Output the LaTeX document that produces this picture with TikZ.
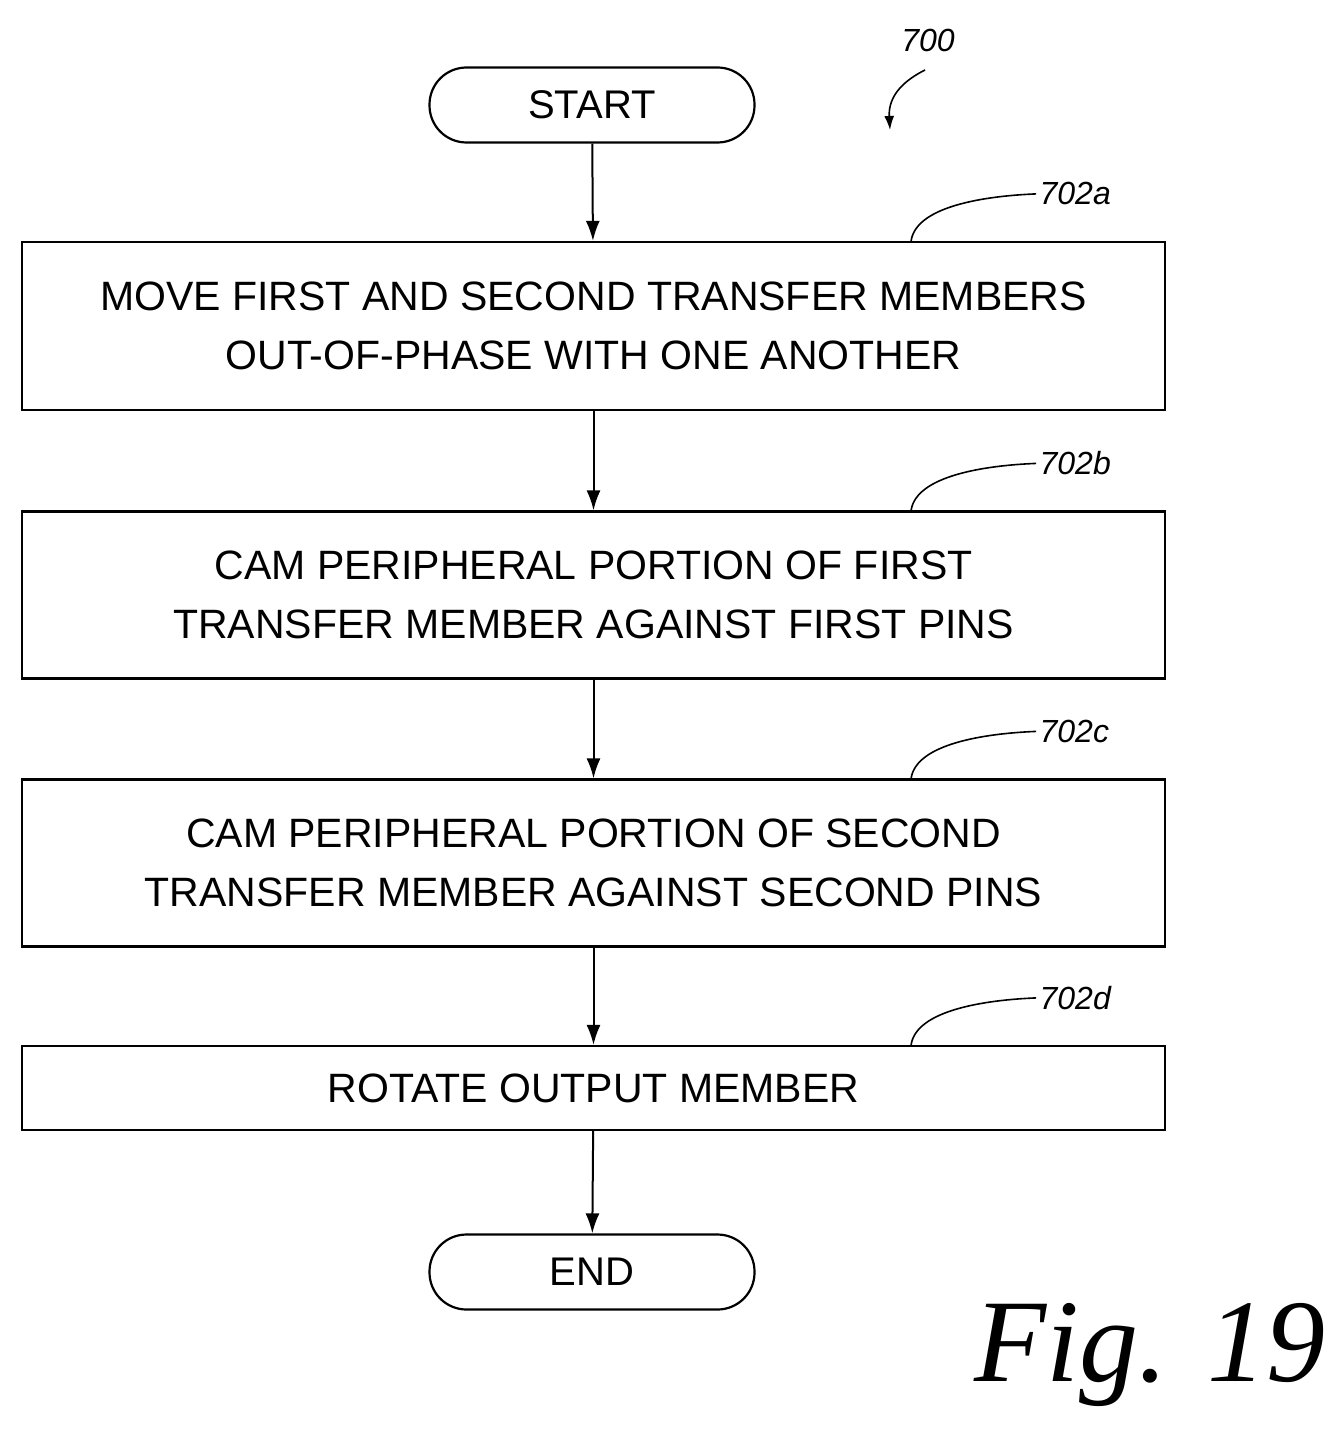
\documentclass[tikz,border=0pt]{standalone}
\usepackage{fontspec}
\setmainfont{Liberation Sans}
\newfontfamily\figfont{Liberation Serif}
\usetikzlibrary{positioning,arrows.meta}
\tikzset{
  stepbox/.style={draw,line width=2.2pt,minimum width=1143pt,align=center,
    font=\fontsize{41}{59}\selectfont,inner sep=0pt},
  term/.style={draw,line width=2.2pt,rounded corners=37pt,minimum width=325pt,
    minimum height=75pt,font=\fontsize{40}{46}\selectfont},
  flow/.style={draw,line width=2pt,-{Latex[length=20pt,width=14pt]}},
  ref/.style={font=\itshape\fontsize{32}{38}\selectfont},
  lead/.style={draw,line width=1.6pt}
}
\begin{document}
\begin{tikzpicture}[x=1pt,y=-1pt]
  \useasboundingbox (0,0) rectangle (1342,1439);
  % terminals
  \node[term] (start) at (592,105) {START};
  \node[term] (end) at (592,1272) {END};
  % process steps
  \foreach \name/\ymid/\hgt/\txt in {
    a/326/168/{MOVE FIRST AND SECOND TRANSFER MEMBERS\\OUT-OF-PHASE WITH ONE ANOTHER},
    b/595/167/{CAM PERIPHERAL PORTION OF FIRST\\TRANSFER MEMBER AGAINST FIRST PINS},
    c/863/167/{CAM PERIPHERAL PORTION OF SECOND\\TRANSFER MEMBER AGAINST SECOND PINS},
    d/1088/84/{ROTATE OUTPUT MEMBER}}
  \node[stepbox,minimum height=\hgt pt] (s\name) at (593.5,\ymid) {\txt};
  % connectors
  \foreach \source/\dest in {start/sa, sa/sb, sb/sc, sc/sd, sd/end}
  \path[flow] (\source) -- (\dest);
  % reference numerals
  \foreach \name in {a,b,c,d} {
    \node[ref,anchor=west] (l\name) at ([xshift=-130pt,yshift=47pt]s\name.north east) {702\name};
    \path[lead] ([xshift=-255pt]s\name.north east) .. controls +(5,-35) and +(-50,2) .. (l\name.west);
  }
  \node[ref] (fig) at (928,40) {700};
  \coordinate (figtip) at (890,130);
  \path[lead,-{Latex[length=14pt,width=10pt]}] (925,70) .. controls (905,80) and (888,95) .. (figtip);
  \node[font=\figfont\itshape\fontsize{118}{130}\selectfont] (caption) at (1150,1355) {Fig. 19};
\end{tikzpicture}
\end{document}
